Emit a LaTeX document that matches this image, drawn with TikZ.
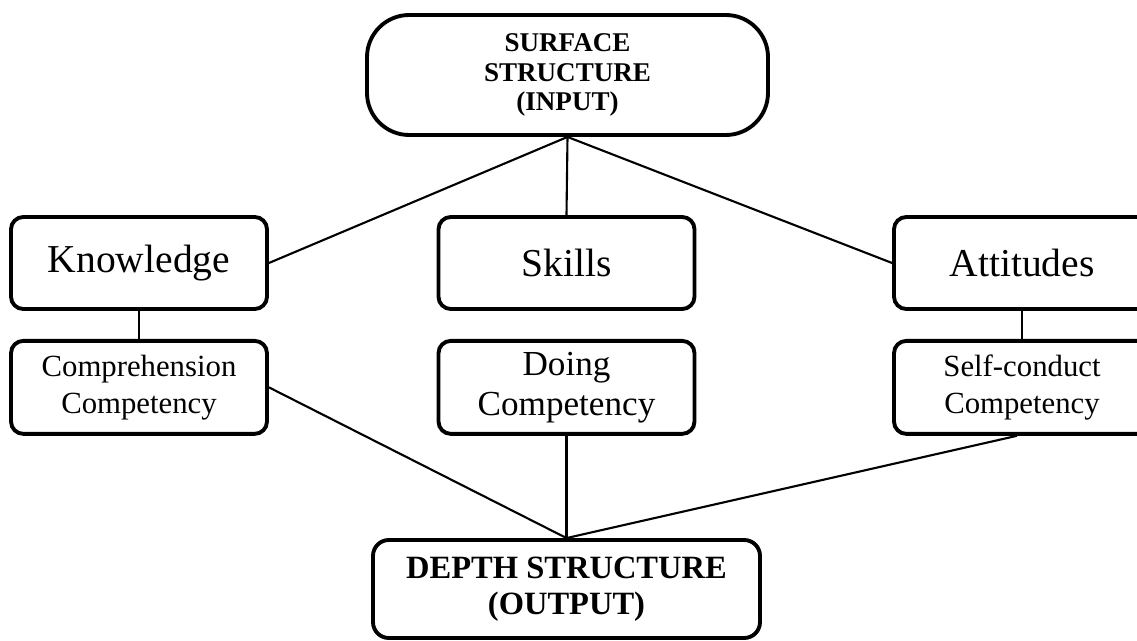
\documentclass[tikz,border=0pt]{standalone}
\usepackage{fontspec}
\setmainfont{Liberation Serif}
\usetikzlibrary{positioning}
\tikzstyle{Block} = [draw, line width=2.2pt, rounded corners=7pt, align=center, inner sep=0pt, minimum width=5.12cm, minimum height=1.84cm, font=\fontsize{22.5}{27}\selectfont]
\tikzstyle{Comp} = [Block, minimum height=1.86cm, font=\fontsize{17.5}{21}\selectfont]
\tikzstyle{Terminal} = [draw, line width=2.2pt, align=center, inner sep=0pt, font=\bfseries]
\tikzstyle{Link} = [line width=1.2pt]

\begin{document}
\begin{tikzpicture}[node distance=0.56cm]
    \clip (0,0) rectangle (22.74,-12.82);
    \node[Terminal, rounded corners=24pt, minimum width=8.02cm, minimum height=2.4cm,
          font=\bfseries\fontsize{15.4}{16.6}\selectfont] (surface) at (11.35,-1.5) {SURFACE\\STRUCTURE\\(INPUT)};
    \node[Block] (knowledge) at (2.78,-5.26)  {Knowledge};
    \node[Block] (skills)    at (11.33,-5.26) {Skills};
    \node[Block] (attitudes) at (20.44,-5.26) {Attitudes};
    \node[Comp]  (comprehension) [below=of knowledge] {Comprehension\\Competency};
    \node[Comp, font=\fontsize{20}{22.7}\selectfont] (doing) [below=of skills] {Doing\\Competency};
    \node[Comp]  (selfconduct)   [below=of attitudes] {Self-conduct\\Competency};
    \node[Terminal, rounded corners=9pt, minimum width=7.74cm, minimum height=1.96cm,
          font=\bfseries\fontsize{18.5}{20.5}\selectfont] (depth) at (11.33,-11.78) {DEPTH STRUCTURE\\(OUTPUT)};
    \draw[Link] (surface.south) -- (knowledge.east);
    \draw[Link] (surface.south) -- (skills.north);
    \draw[Link] (surface.south) -- (attitudes.west);
    \draw[Link] (knowledge) -- (comprehension);
    \draw[Link] (attitudes) -- (selfconduct);
    \draw[Link] (comprehension.east) -- (depth.north);
    \draw[Link] (doing.south) -- (depth.north);
    \draw[Link] ([xshift=-0.1cm]selfconduct.south) -- (depth.north);
  \end{tikzpicture}
\end{document}
